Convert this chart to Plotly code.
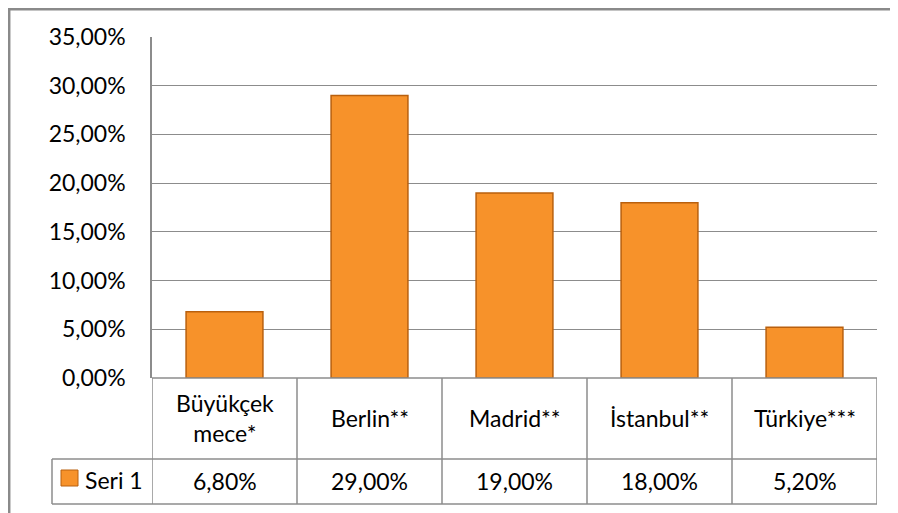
import plotly.graph_objects as go

categories = ["Büyükçek<br>mece*", "Berlin**", "Madrid**", "İstanbul**", "Türkiye***"]
values = [0.068, 0.29, 0.19, 0.18, 0.052]
series_name = "Seri 1"
tick_vals = [0, 0.05, 0.10, 0.15, 0.20, 0.25, 0.30, 0.35]

FONT = "Lato"
FS = 23
GRAY = "#8c8c8c"

OFF = 8  # page body margin
W, H = 898, 513
# reference pixel positions of plot area
RL, RR, RT, RB = 152, 877, 37, 378
L, T = RL - OFF, RT - OFF
R = W - (RR - OFF)
B = H - (RB - OFF)
pw, ph = W - L - R, H - T - B

def px2x(px):
    return (px - OFF - L) / pw

def py2y(py):
    return (H - B - (py - OFF)) / ph

xs = list(range(len(categories)))

fig = go.Figure()
fig.add_trace(go.Bar(
    x=xs, y=values, width=0.53,
    marker=dict(color="#F7922A", line=dict(color="#B9600E", width=1.5)),
    showlegend=False, hoverinfo="skip",
))

shapes = []
annotations = []

row1_bot = py2y(459)
row2_bot = py2y(504)
line = dict(color=GRAY, width=1.5)
for i in range(len(categories) + 1):
    shapes.append(dict(type="line", xref="x", yref="paper", x0=i - 0.5, x1=i - 0.5,
                       y0=0, y1=row2_bot, line=line))
shapes.append(dict(type="line", xref="paper", yref="paper", x0=px2x(52), x1=1,
                   y0=row1_bot, y1=row1_bot, line=line))
shapes.append(dict(type="line", xref="paper", yref="paper", x0=px2x(52), x1=1,
                   y0=row2_bot, y1=row2_bot, line=line))
shapes.append(dict(type="line", xref="paper", yref="paper", x0=px2x(52), x1=px2x(52),
                   y0=row1_bot, y1=row2_bot, line=line))
shapes.append(dict(type="line", xref="paper", yref="paper", x0=0, x1=1,
                   y0=0, y1=0, line=line))
# legend key
shapes.append(dict(type="rect", xref="paper", yref="paper", x0=px2x(61), x1=px2x(78),
                   y0=py2y(486), y1=py2y(470), fillcolor="#F7922A",
                   line=dict(color="#B9600E", width=1)))
# outer frame (as close to the page edge as the figure allows)
frame = dict(color="#8a8a8a", width=2.5)
shapes.append(dict(type="line", xref="paper", yref="paper", x0=px2x(9.2), x1=px2x(9.2),
                   y0=py2y(8), y1=py2y(530), line=frame))
shapes.append(dict(type="line", xref="paper", yref="paper", x0=px2x(8), x1=px2x(920),
                   y0=py2y(9.2), y1=py2y(9.2), line=frame))

for i, (c, v) in enumerate(zip(categories, values)):
    annotations.append(dict(x=i, xref="x", y=py2y(418), yref="paper", text=c,
                            showarrow=False, font=dict(family=FONT, size=FS, color="#000"),
                            xanchor="center", yanchor="middle"))
    txt = f"{v*100:.2f}%".replace(".", ",")
    annotations.append(dict(x=i, xref="x", y=py2y(481), yref="paper", text=txt,
                            showarrow=False, font=dict(family=FONT, size=FS, color="#000"),
                            xanchor="center", yanchor="middle"))
annotations.append(dict(x=px2x(83), xref="paper", y=py2y(480), yref="paper", text=series_name,
                        showarrow=False, font=dict(family=FONT, size=FS, color="#000"),
                        xanchor="left", yanchor="middle"))

fig.update_layout(
    width=W, height=H,
    margin=dict(l=L, r=R, t=T, b=B),
    paper_bgcolor="white", plot_bgcolor="white",
    separators=", ",
    shapes=shapes, annotations=annotations,
    font=dict(family=FONT, size=FS, color="#000"),
    xaxis=dict(range=[-0.5, len(categories) - 0.5], showticklabels=False, showgrid=False,
               zeroline=False, showline=False, ticks=""),
    yaxis=dict(range=[0, 0.35], tickvals=tick_vals, tickformat=".2%", showgrid=True,
               gridcolor=GRAY, gridwidth=1.2, zeroline=False, showline=True,
               linecolor=GRAY, linewidth=1.5, ticks="outside", ticklen=20,
               tickcolor="rgba(0,0,0,0)",
               tickfont=dict(family=FONT, size=FS, color="#000")),
    bargap=0.47,
)

fig.write_html("out.html")
